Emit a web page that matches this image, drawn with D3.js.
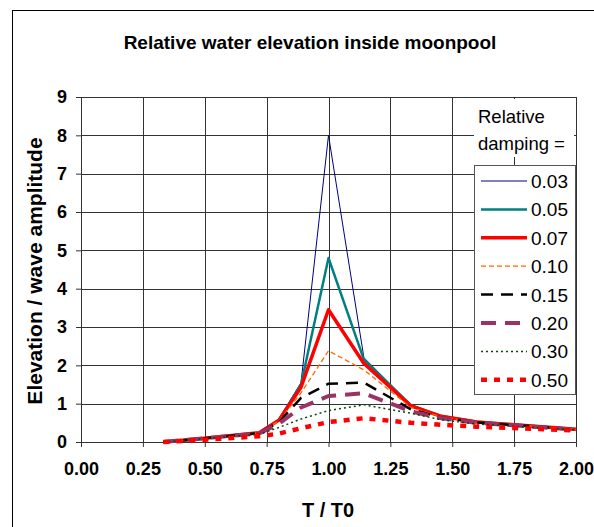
<!DOCTYPE html>
<html>
<head>
<meta charset="utf-8">
<script src="https://cdn.jsdelivr.net/npm/d3@7"></script>
<style>
  body { margin: 0; background: #fff; }
  svg { font-family: "Liberation Sans", Arial, sans-serif; }
</style>
</head>
<body>
<div id="chart"></div>
<script>
// T/T0 sample points
const ratios = [0.333, 0.5, 0.72, 0.8, 0.889, 1.0, 1.143, 1.333, 1.455, 1.6, 2.0];

const damping = ["0.03", "0.05", "0.07", "0.10", "0.15", "0.20", "0.30", "0.50"];

const d003 = [0, 0.1, 0.24, 0.6, 1.55, 8.0, 2.2, 0.97, 0.68, 0.53, 0.33];
const d005 = [0, 0.1, 0.24, 0.58, 1.5, 4.8, 2.15, 0.96, 0.68, 0.53, 0.33];
const d007 = [0, 0.1, 0.24, 0.57, 1.43, 3.45, 2.05, 0.94, 0.67, 0.52, 0.33];
const d010 = [0, 0.1, 0.24, 0.55, 1.28, 2.38, 1.88, 0.9, 0.66, 0.52, 0.33];
const d015 = [0, 0.1, 0.23, 0.52, 1.15, 1.52, 1.55, 0.85, 0.64, 0.51, 0.33];
const d020 = [0, 0.1, 0.22, 0.48, 0.9, 1.2, 1.27, 0.8, 0.62, 0.5, 0.32];
const d030 = [0, 0.09, 0.2, 0.38, 0.6, 0.82, 0.97, 0.75, 0.58, 0.47, 0.31];
const d050 = [0, 0.06, 0.15, 0.22, 0.36, 0.52, 0.62, 0.5, 0.45, 0.4, 0.3];
const allSeries = [d003, d005, d007, d010, d015, d020, d030, d050];

const xTicks = [0, 0.25, 0.5, 0.75, 1, 1.25, 1.5, 1.75, 2];
const yTicks = [0, 1, 2, 3, 4, 5, 6, 7, 8, 9];

const styles = [
  {color: "#000080", w: 1,   dash: null},
  {color: "#008080", w: 2.5, dash: null},
  {color: "#ff0000", w: 3.5, dash: null},
  {color: "#ff6600", w: 1.3, dash: "5,3"},
  {color: "#000000", w: 2.5, dash: "12,8"},
  {color: "#993366", w: 4,   dash: "15,9"},
  {color: "#004d00", w: 1.5, dash: "2,3"},
  {color: "#ff0000", w: 4.5, dash: "6,7"}
];

const W = 594, H = 527;
const margin = {top: 97, left: 81, right: 18, bottom: 85};
const width = W - margin.left - margin.right,
      height = H - margin.top - margin.bottom;

const x = d3.scaleLinear().domain([0, 2]).range([0, width]);
const y = d3.scaleLinear().domain([0, 9]).range([height, 0]);

const svg = d3.select("#chart").append("svg")
  .attr("width", W).attr("height", H);

// outer frame
svg.append("rect")
  .attr("x", 12.5).attr("y", 10.5)
  .attr("width", W).attr("height", H)
  .attr("fill", "none").attr("stroke", "#000").attr("stroke-width", 1);

svg.append("text")
  .attr("x", 310).attr("y", 49)
  .attr("text-anchor", "middle")
  .style("font-weight", "bold").style("font-size", "19px")
  .text("Relative water elevation inside moonpool");

const g = svg.append("g")
  .attr("transform", "translate(" + margin.left + "," + margin.top + ")");

// grid
g.selectAll(null).data(yTicks.slice(1)).enter().append("line")
  .attr("x1", 0).attr("x2", width)
  .attr("y1", d => Math.round(y(d)) + 0.5).attr("y2", d => Math.round(y(d)) + 0.5)
  .attr("stroke", "#333").attr("stroke-width", 1);
g.selectAll(null).data(xTicks.slice(1)).enter().append("line")
  .attr("x1", d => Math.round(x(d)) + 0.5).attr("x2", d => Math.round(x(d)) + 0.5)
  .attr("y1", 0).attr("y2", height)
  .attr("stroke", "#333").attr("stroke-width", 1);

// axes
const xAxis = g.append("g")
  .attr("transform", "translate(0," + height + ")")
  .call(d3.axisBottom(x).tickValues(xTicks).tickSize(5).tickPadding(15)
    .tickFormat(d3.format(".2f")));
const yAxis = g.append("g")
  .call(d3.axisLeft(y).tickValues(yTicks).tickSize(5).tickPadding(9)
    .tickFormat(d3.format("d")));
[xAxis, yAxis].forEach(a => {
  a.select(".domain").attr("stroke", "#333");
  a.selectAll(".tick line").attr("stroke", "#333");
  a.selectAll("text").attr("fill", "#000")
    .style("font-family", "'Liberation Sans', Arial, sans-serif")
    .style("font-weight", "bold").style("font-size", "18px");
});
xAxis.select(".domain").attr("d", "M0.5,0.5H" + width);

svg.append("text")
  .attr("x", 328).attr("y", 517)
  .attr("text-anchor", "middle")
  .style("font-weight", "bold").style("font-size", "20px")
  .text("T / T0");

svg.append("text")
  .attr("transform", "translate(42,271) rotate(-90)")
  .attr("text-anchor", "middle")
  .style("font-weight", "bold").style("font-size", "21px")
  .text("Elevation / wave amplitude");

// series
const line = d3.line().x((d, i) => x(ratios[i])).y(d => y(d));
allSeries.forEach((s, i) => {
  g.append("path")
    .datum(s)
    .attr("d", line)
    .attr("fill", "none")
    .attr("stroke", styles[i].color)
    .attr("stroke-width", styles[i].w)
    .attr("stroke-dasharray", styles[i].dash)
    .attr("stroke-linejoin", "round");
});

// legend title
svg.append("rect")
  .attr("x", 474).attr("y", 99).attr("width", 100).attr("height", 58)
  .attr("fill", "#fff");
svg.append("text").attr("x", 478).attr("y", 123)
  .style("font-size", "18.5px").text("Relative");
svg.append("text").attr("x", 478).attr("y", 150)
  .style("font-size", "18.5px").text("damping =");

// legend box
const lg = svg.append("g").attr("transform", "translate(474,165)");
lg.append("rect")
  .attr("x", 0.5).attr("y", 0.5).attr("width", 101).attr("height", 229)
  .attr("fill", "#fff").attr("stroke", "#555").attr("stroke-width", 1);
damping.forEach((d, i) => {
  const yy = 16 + i * 28.4;
  lg.append("line")
    .attr("x1", 7).attr("x2", 53).attr("y1", yy).attr("y2", yy)
    .attr("stroke", styles[i].color)
    .attr("stroke-width", styles[i].w)
    .attr("stroke-dasharray", styles[i].dash);
  lg.append("text")
    .attr("x", 57).attr("y", yy + 7)
    .style("font-size", "19px")
    .text(d);
});
</script>
</body>
</html>
